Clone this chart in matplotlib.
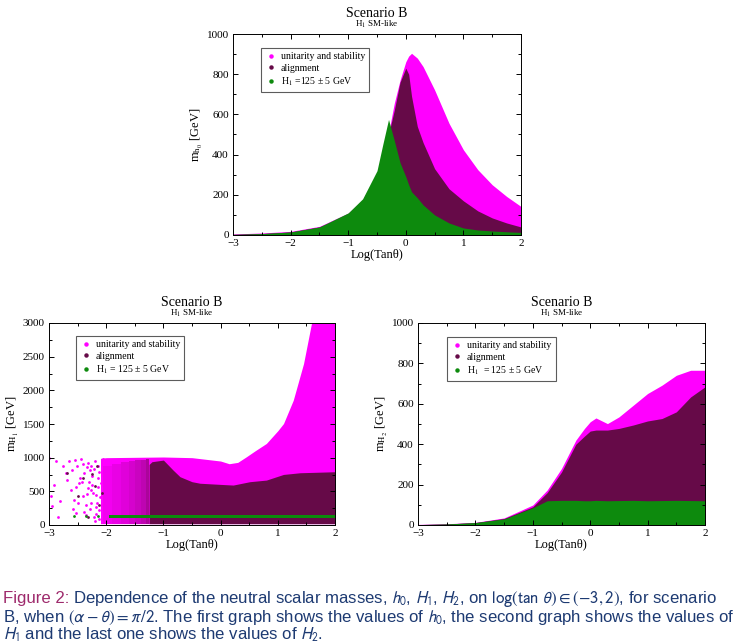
import matplotlib
matplotlib.use("Agg")
import matplotlib.pyplot as plt
from matplotlib.ticker import MultipleLocator
from matplotlib.lines import Line2D

# colores
MAG = "#ff00ff"
PUR = "#660a48"
GRN = "#0d8a0d"

# ---- h0 (arriba)
x_h0 = [-3, -2.5, -2, -1.5, -1, -0.75, -0.5, -0.4, -0.3, -0.2, -0.1, 0, 0.05,
        0.1, 0.2, 0.3, 0.5, 0.75, 1, 1.25, 1.5, 1.75, 2]
uni_h0 = [5, 10, 18, 43, 109, 175, 308, 400, 507, 655, 770, 862, 890,
          904, 880, 838, 722, 556, 424, 325, 250, 192, 142]
ali_h0 = [3, 7, 15, 40, 100, 160, 280, 380, 500, 620, 760, 830, 800,
          690, 540, 460, 330, 230, 170, 120, 85, 60, 40]
grn_h0 = [3, 7, 15, 40, 110, 180, 320, 450, 575, 470, 360, 290, 250,
          215, 185, 150, 100, 60, 35, 25, 20, 16, 13]

# ---- H1 (abajo izquierda)
x_H1 = [-2.1, -2, -1.5, -1, -0.5, 0, 0.15, 0.3, 0.45, 0.6, 0.8, 1.0, 1.1,
        1.27, 1.45, 1.59, 1.8, 2]
uni_H1 = [990, 1000, 1005, 1010, 1000, 950, 910, 930, 1013, 1100, 1211, 1400,
          1507, 1853, 2397, 3000, 3800, 4600]
x_ali_H1 = [-1.25, -1.2, -1.0, -0.83, -0.71, -0.5, -0.36, 0, 0.22, 0.51, 0.8,
            1.1, 1.39, 2]
ali_H1 = [900, 940, 964, 815, 717, 643, 620, 603, 593, 643, 667, 751, 776, 791]
# zona con puntos de alineamiento dispersos (densidad creciente)
mix_edges_H1 = [-2.05, -1.9, -1.75, -1.6, -1.5, -1.4, -1.3, -1.25]
mix_top_H1 = [880, 900, 930, 950, 960, 970, 980]
mix_alpha_H1 = [0.08, 0.14, 0.2, 0.27, 0.34, 0.42, 0.55]
x_grn_H1 = [-1.95, 2]
grn_H1_lo = [108, 108]
grn_H1_hi = [142, 142]
# puntos sueltos para log(tan) < -2
sx_uni = [-3, -2.88, -2.91, -2.97, -2.94, -2.85, -2.76, -2.71, -2.68, -2.65,
          -2.62, -2.56, -2.53, -2.51, -2.47, -2.44, -2.41, -2.38, -2.35, -2.32,
          -2.31, -2.26, -2.24, -2.21, -2.18, -2.15, -2.12, -2.09, -2.06, -2.2,
          -2.28, -2.36, -2.45, -2.58, -2.8, -2.13, -2.16, -2.19, -2.23, -2.27,
          -2.3, -2.33, -2.11, -2.14, -2.17, -2.25, -2.29, -2.4, -2.52, -2.6,
          -2.12, -2.15, -2.18, -2.22, -2.26, -2.34, -2.39, -2.43, -2.49, -2.55]
sy_uni = [1000, 950, 600, 425, 275, 125, 875, 775, 675, 950,
          525, 375, 175, 875, 625, 975, 425, 775, 150, 550,
          925, 325, 725, 125, 450, 875, 225, 625, 975, 60,
          820, 300, 700, 240, 360, 780, 330, 950, 480, 880,
          640, 860, 420, 560, 170, 600, 240, 900, 560, 820,
          90, 700, 260, 830, 520, 460, 200, 640, 320, 960]
sx_ali = [-2.68, -2.5, -2.32, -2.2, -2.4, -2.12, -2.16, -2.25, -2.08]
sy_ali = [775, 425, 125, 575, 700, 300, 880, 760, 480]
sx_grn = [-2.56, -2.35, -2.15]
sy_grn = [135, 135, 135]

# ---- H2 (abajo derecha)
x_H2 = [-3, -2.5, -2, -1.5, -1, -0.75, -0.5, -0.25, -0.1, 0, 0.1, 0.3, 0.5,
        0.75, 1, 1.25, 1.5, 1.75, 2]
uni_H2 = [3, 6, 13, 35, 99, 173, 280, 420, 478, 511, 530, 502, 535,
          593, 651, 692, 741, 766, 766]
ali_H2 = [2, 5, 12, 32, 90, 160, 262, 400, 440, 465, 470, 470, 478,
          495, 515, 527, 560, 634, 684]
grn_H2 = [2, 5, 12, 30, 85, 120, 122, 122, 120, 120, 122, 120, 121,
          122, 120, 121, 122, 121, 120]

SERIF = "Liberation Serif"
plt.rcParams["font.family"] = [SERIF, "DejaVu Serif"]
plt.rcParams["mathtext.fontset"] = "stix"

fig = plt.figure(figsize=(7.39, 6.44), dpi=100)
W, H = 739, 644


def make_ax(x0, x1, y0, y1):
    return fig.add_axes([x0 / W, 1 - y1 / H, (x1 - x0) / W, (y1 - y0) / H])


def style(ax, ymax, ymaj, ylabel, leg_xy, h1_label):
    ax.set_xlim(-3, 2)
    ax.set_ylim(0, ymax)
    ax.xaxis.set_major_locator(MultipleLocator(1))
    ax.xaxis.set_minor_locator(MultipleLocator(0.5))
    ax.yaxis.set_major_locator(MultipleLocator(ymaj))
    ax.yaxis.set_minor_locator(MultipleLocator(ymaj / 2))
    ax.tick_params(which="both", direction="in", top=True, right=True,
                   width=0.7, labelsize=8, pad=3)
    ax.tick_params(which="major", length=3.5)
    ax.tick_params(which="minor", length=2)
    for s in ax.spines.values():
        s.set_linewidth(0.7)
    ax.annotate("Scenario B", (0.5, 1), xycoords="axes fraction",
                xytext=(0, 12.5), textcoords="offset points",
                ha="center", va="baseline", fontsize=10)
    ax.annotate("H$_1$ SM-like", (0.5, 1), xycoords="axes fraction",
                xytext=(0, 5.5), textcoords="offset points",
                ha="center", va="baseline", fontsize=6.5)
    ax.set_xlabel("Log(Tanθ)", fontsize=9, labelpad=0.5)
    ax.set_ylabel(ylabel, fontsize=9, labelpad=1.5)
    handles = [Line2D([], [], ls="none", marker="o", ms=2.2, color=c, mec=c)
               for c in (MAG, PUR, GRN)]
    leg = ax.legend(handles, ["unitarity and stability", "alignment", h1_label],
                    loc="upper left", bbox_to_anchor=leg_xy, borderaxespad=0,
                    fontsize=7, frameon=True, fancybox=False, handlelength=1.2,
                    handletextpad=0.4, borderpad=0.45, labelspacing=0.25)
    leg.get_frame().set_edgecolor("#333333")
    leg.get_frame().set_linewidth(0.8)


# h0
ax1 = make_ax(233, 521, 34, 235)
ax1.fill_between(x_h0, 0, uni_h0, color=MAG, lw=0)
ax1.fill_between(x_h0, 0, ali_h0, color=PUR, lw=0)
ax1.fill_between(x_h0, 0, grn_h0, color=GRN, lw=0)
style(ax1, 1000, 200, "m$_{\\mathrm{h}_0}$ [GeV]", (0.097, 0.93),
      "H$_1$ =125 ± 5 GeV")

# H1
ax2 = make_ax(49, 335, 323, 525)
ax2.fill_between(x_H1, 20, uni_H1, color=MAG, lw=0)
for i in range(len(mix_top_H1)):
    ax2.fill_between(mix_edges_H1[i:i + 2], 20, mix_top_H1[i], color=PUR,
                     alpha=mix_alpha_H1[i], lw=0)
ax2.fill_between(x_ali_H1, 20, ali_H1, color=PUR, lw=0)
ax2.scatter(sx_uni, sy_uni, s=4, color=MAG, lw=0)
ax2.scatter(sx_ali, sy_ali, s=4, color=PUR, lw=0)
ax2.scatter(sx_grn, sy_grn, s=4, color=GRN, lw=0)
ax2.fill_between(x_grn_H1, grn_H1_lo, grn_H1_hi, color=GRN, lw=0)
style(ax2, 3000, 500, "m$_{\\mathrm{H}_1}$ [GeV]", (0.094, 0.936),
      "H$_1$ = 125 ± 5 GeV")

# H2
ax3 = make_ax(418, 705, 323, 525)
ax3.fill_between(x_H2, 0, uni_H2, color=MAG, lw=0)
ax3.fill_between(x_H2, 0, ali_H2, color=PUR, lw=0)
ax3.fill_between(x_H2, 0, grn_H2, color=GRN, lw=0)
style(ax3, 1000, 200, "m$_{\\mathrm{H}_2}$ [GeV]", (0.101, 0.931),
      "H$_1$  = 125 ± 5 GeV")

# ---- pie de figura
CAP_RED = "#9e2a6c"
CAP_BLUE = "#1d3a72"
cap_font = dict(family=["Liberation Sans", "DejaVu Sans"],
                math_fontfamily="stixsans")
lines = [
    "Dependence of the neutral scalar masses, $h_0$, $H_1$, $H_2$, on "
    "$\\mathrm{log}(\\mathrm{tan}\\ \\theta) \\in (-3, 2)$, for scenario",
    "B, when $(\\alpha - \\theta) = \\pi/2$. The first graph shows the values of "
    "$h_0$, the second graph shows the values of",
    "$H_1$ and the last one shows the values of $H_2$.",
]
baselines = [603, 622, 640]
fs = 12.5
renderer = fig.canvas.get_renderer()
t0 = fig.text(3 / W, 1 - baselines[0] / H, "Figure 2:", color=CAP_RED,
              fontsize=fs, va="baseline", ha="left", **cap_font)
t1 = fig.text(0, 1 - baselines[0] / H, lines[0], color=CAP_BLUE,
              fontsize=fs, va="baseline", ha="left", **cap_font)
rest = [fig.text(3 / W, 1 - b / H, ln, color=CAP_BLUE, fontsize=fs,
                 va="baseline", ha="left", **cap_font)
        for ln, b in zip(lines[1:], baselines[1:])]

# ajustar tamaño para que la línea más ancha llegue a ~734 px
w_first = t0.get_window_extent(renderer).width + 4 + \
    t1.get_window_extent(renderer).width
w_max = max(w_first, rest[0].get_window_extent(renderer).width)
fs = fs * (734 - 3) / w_max
for t in [t0, t1] + rest:
    t.set_fontsize(fs)
ext = t0.get_window_extent(renderer)
t1.set_x((ext.x1 + 4) / W)

fig.savefig("out.png", dpi=100)
